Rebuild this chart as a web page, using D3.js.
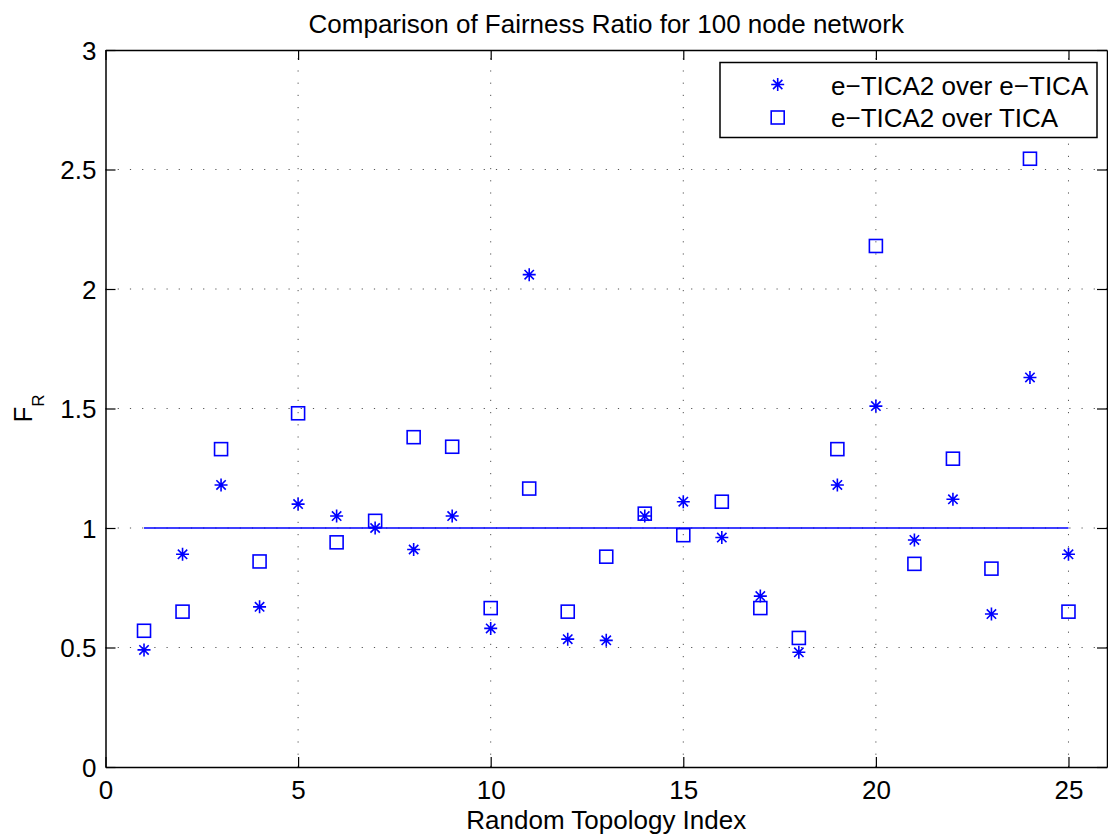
<!DOCTYPE html>
<html>
<head>
<meta charset="utf-8">
<script src="https://cdn.jsdelivr.net/npm/d3@7"></script>
<style>
  html, body { margin: 0; padding: 0; background: #fff; }
  text { font-family: "Liberation Sans", Arial, Helvetica, sans-serif; fill: #000; }
</style>
</head>
<body>
<svg id="chart" width="1108" height="837"></svg>
<script>
// ---- data ----
const indices = d3.range(1, 26);
const eTica2OverETica = [0.49, 0.89, 1.18, 0.67, 1.10, 1.05, 1.00, 0.91, 1.05, 0.58,
                         2.06, 0.535, 0.53, 1.05, 1.11, 0.96, 0.715, 0.48, 1.18, 1.51,
                         0.95, 1.12, 0.64, 1.63, 0.89];
const eTica2OverTica  = [0.57, 0.65, 1.33, 0.86, 1.48, 0.94, 1.03, 1.38, 1.34, 0.665,
                         1.165, 0.65, 0.88, 1.06, 0.97, 1.11, 0.665, 0.54, 1.33, 2.18,
                         0.85, 1.29, 0.83, 2.545, 0.65];
const referenceLine = [{x: 1, y: 1}, {x: 25, y: 1}];
const xTicks = [0, 5, 10, 15, 20, 25];
const yTicks = [0, 0.5, 1, 1.5, 2, 2.5, 3];
const seriesNames = ["e\u2212TICA2 over e\u2212TICA", "e\u2212TICA2 over TICA"];
const titleText = "Comparison of Fairness Ratio for 100 node network";
const xLabelText = "Random Topology Index";

// ---- layout ----
const svg = d3.select("#chart");
const L = 105.5, R = 1107, T = 50, B = 767;
const x = d3.scaleLinear().domain([0, 26]).range([L, R]);
const y = d3.scaleLinear().domain([0, 3]).range([B, T]);
const blue = "#0000ff";
const fontSize = 26;

// grid
const grid = svg.append("g");
grid.selectAll("line.gx").data(xTicks.filter(d => d > 0)).join("line")
  .attr("x1", d => x(d)).attr("x2", d => x(d)).attr("y1", B).attr("y2", T)
  .attr("stroke", "#555").attr("stroke-width", 1).attr("stroke-dasharray", "1.2,11");
grid.selectAll("line.gy").data(yTicks.filter(d => d > 0 && d < 3)).join("line")
  .attr("y1", d => y(d)).attr("y2", d => y(d)).attr("x1", L).attr("x2", R)
  .attr("stroke", "#555").attr("stroke-width", 1).attr("stroke-dasharray", "1.2,11");

// axes (box with inward ticks on all sides)
const tickLen = 10;
const axB = svg.append("g").attr("transform", `translate(0,${B})`)
  .call(d3.axisBottom(x).tickValues(xTicks).tickSizeInner(-tickLen).tickSizeOuter(0).tickPadding(14));
const axT = svg.append("g").attr("transform", `translate(0,${T})`)
  .call(d3.axisTop(x).tickValues(xTicks).tickSizeInner(-tickLen).tickSizeOuter(0).tickFormat(""));
const axL = svg.append("g").attr("transform", `translate(${L},0)`)
  .call(d3.axisLeft(y).tickValues(yTicks).tickSizeInner(-tickLen).tickSizeOuter(0).tickPadding(9).tickFormat(d3.format("")));
const axR = svg.append("g").attr("transform", `translate(${R},0)`)
  .call(d3.axisRight(y).tickValues(yTicks).tickSizeInner(-tickLen).tickSizeOuter(0).tickFormat(""));
[axB, axT, axL, axR].forEach(a => {
  a.select(".domain").attr("stroke", "#000").attr("stroke-width", 1.5);
  a.selectAll(".tick line").attr("stroke", "#000").attr("stroke-width", 1.2);
  a.selectAll("text").attr("font-size", fontSize).attr("font-family", '"Liberation Sans", Arial, sans-serif').attr("fill", "#000");
});
axL.selectAll("text").attr("dy", "0.36em");

// reference line
svg.append("path").datum(referenceLine)
  .attr("d", d3.line().x(d => x(d.x)).y(d => y(d.y)))
  .attr("stroke", blue).attr("stroke-width", 1.5).attr("fill", "none");

// markers
const S = 13;
function star(g, cx, cy) {
  const h = S / 2, d = h * 0.72;
  const p = `M${cx - h},${cy}L${cx + h},${cy}M${cx},${cy - h}L${cx},${cy + h}` +
            `M${cx - d},${cy - d}L${cx + d},${cy + d}M${cx - d},${cy + d}L${cx + d},${cy - d}`;
  g.append("path").attr("d", p).attr("stroke", blue).attr("stroke-width", 1.6).attr("fill", "none");
}
function square(g, cx, cy) {
  g.append("rect").attr("x", cx - S / 2).attr("y", cy - S / 2).attr("width", S).attr("height", S)
    .attr("stroke", blue).attr("stroke-width", 1.6).attr("fill", "none");
}
const marks = svg.append("g");
indices.forEach((idx, i) => {
  star(marks, x(idx), y(eTica2OverETica[i]));
  square(marks, x(idx), y(eTica2OverTica[i]));
});

// legend
const lg = svg.append("g");
lg.append("rect").attr("x", 720).attr("y", 62.5).attr("width", 377).attr("height", 75)
  .attr("fill", "#fff").attr("stroke", "#000").attr("stroke-width", 1.5);
star(lg, 777.7, 84.5);
square(lg, 777.7, 117.5);
lg.append("text").attr("x", 831).attr("y", 95).attr("font-size", fontSize).text(seriesNames[0]);
lg.append("text").attr("x", 831).attr("y", 127).attr("font-size", fontSize).text(seriesNames[1]);

// title & labels
svg.append("text").attr("x", (L + R) / 2).attr("y", 33).attr("text-anchor", "middle")
  .attr("font-size", fontSize).text(titleText);
svg.append("text").attr("x", (L + R) / 2).attr("y", 829).attr("text-anchor", "middle")
  .attr("font-size", fontSize).text(xLabelText);
const yl = svg.append("text").attr("transform", `translate(31.5,${(T + B) / 2}) rotate(-90)`)
  .attr("text-anchor", "middle").attr("font-size", fontSize);
yl.append("tspan").text("F");
yl.append("tspan").attr("font-size", 17).attr("dy", 12).text("R");
</script>
</body>
</html>
